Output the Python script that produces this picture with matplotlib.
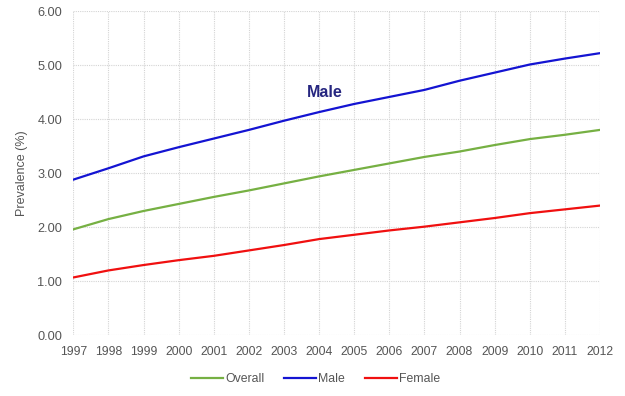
import matplotlib
matplotlib.use("Agg")
import matplotlib.pyplot as plt

years = list(range(1997, 2013))
overall = [1.96, 2.15, 2.30, 2.43, 2.56, 2.68, 2.81, 2.94, 3.06, 3.18, 3.30, 3.40, 3.52, 3.63, 3.71, 3.80]
male = [2.88, 3.09, 3.31, 3.48, 3.64, 3.80, 3.97, 4.13, 4.28, 4.41, 4.54, 4.71, 4.86, 5.01, 5.12, 5.22]
female = [1.07, 1.20, 1.30, 1.39, 1.47, 1.57, 1.67, 1.78, 1.86, 1.94, 2.01, 2.09, 2.17, 2.26, 2.33, 2.40]
yticks = [0, 1, 2, 3, 4, 5, 6]

plt.rcParams['font.family'] = ['Liberation Sans', 'DejaVu Sans']

fig = plt.figure(figsize=(6.25, 3.96), dpi=100)
ax = fig.add_axes([73.3 / 625, 1 - 335.3 / 396, (600 - 73.3) / 625, (335.3 - 11) / 396])

ax.plot(years, overall, color='#76b043', lw=1.6, label='Overall')
ax.plot(years, male, color='#1414d2', lw=1.6, label='Male')
ax.plot(years, female, color='#f01010', lw=1.6, label='Female')

ax.set_xlim(1997, 2012)
ax.set_ylim(0, 6)
ax.set_xticks(years)
ax.set_xticklabels([str(y) for y in years])
ax.set_yticks(yticks)
ax.set_yticklabels([f"{v:.2f}" for v in yticks])
ax.grid(True, color='#d4d4d4', linestyle=(0, (1, 1)), linewidth=0.8)
ax.set_axisbelow(True)
for s in ax.spines.values():
    s.set_visible(False)
ax.tick_params(length=0, colors='#555555')
ax.tick_params(axis='x', labelsize=8.8, pad=7.5)
ax.tick_params(axis='y', labelsize=9.2, pad=8)
ax.set_ylabel('Prevalence (%)', fontsize=9, color='#555555', labelpad=7)

ax.text(2004.17, 4.49, 'Male', fontsize=11.5, fontweight='bold', color='#262680', ha='center', va='center')

fig.legend(loc='lower center', bbox_to_anchor=(0.505, 0.0), ncol=3, frameon=False,
           fontsize=8.8, handlelength=2.6, handletextpad=0.2, columnspacing=1.6,
           labelcolor='#555555')

fig.savefig('out.png', dpi=100)
